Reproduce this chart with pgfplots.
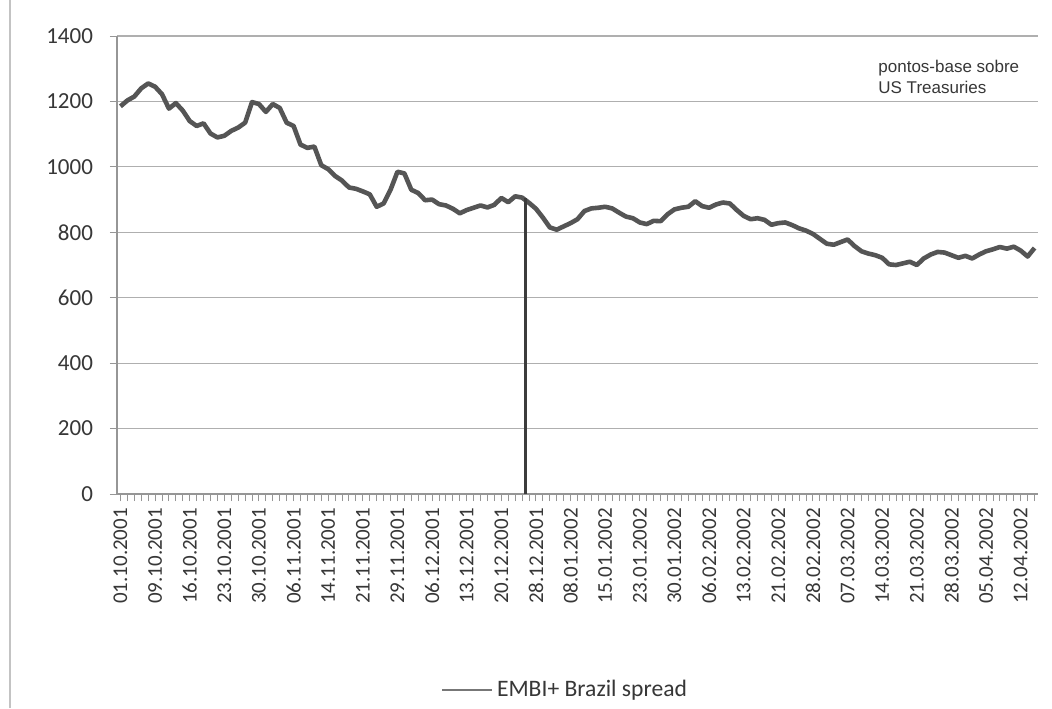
\documentclass[border=0pt]{standalone}
\usepackage{fontspec}
\setmainfont{Carlito}
\newfontfamily\notefont{Liberation Sans}
\usepackage{pgfplots}
\pgfplotsset{compat=1.18}

\definecolor{spread}{RGB}{85,85,85}
\definecolor{marker}{RGB}{60,60,60}
\definecolor{gridgray}{RGB}{175,175,175}
\definecolor{axisgray}{RGB}{150,150,150}
\definecolor{labelgray}{RGB}{55,55,55}
\definecolor{framegray}{RGB}{195,195,195}

\begin{document}
\begin{tikzpicture}
\useasboundingbox (0,0) rectangle (526pt,354pt);
\fill[white] (0,0) rectangle (526pt,354pt);
\draw[framegray, line width=0.6pt] (5pt,0) -- (5pt,354pt);
\begin{axis}[
  at={(58.5pt,107pt)}, anchor=south west,
  scale only axis, width=460.5pt, height=229pt,
  xmin=-0.5, xmax=132.5, ymin=0, ymax=1400,
  axis x line*=bottom, axis y line*=left,
  axis line style={axisgray, line width=0.6pt, -},
  xtick pos=left, ytick pos=left, tick align=outside,
  major tick length=3.5pt, minor tick length=3.5pt,
  tick style={axisgray, line width=0.5pt},
  ytick={0,200,...,1400},
  ymajorgrids, grid style={gridgray, line width=0.6pt},
  xtick={0,5,...,130},
  minor xtick={0,...,132},
  xticklabels={01.10.2001,09.10.2001,16.10.2001,23.10.2001,30.10.2001,06.11.2001,14.11.2001,21.11.2001,29.11.2001,06.12.2001,13.12.2001,20.12.2001,28.12.2001,08.01.2002,15.01.2002,23.01.2002,30.01.2002,06.02.2002,13.02.2002,21.02.2002,28.02.2002,07.03.2002,14.03.2002,21.03.2002,28.03.2002,05.04.2002,12.04.2002},
  xticklabel style={rotate=90, anchor=east, text=labelgray, font=\fontsize{10.5}{12}\selectfont},
  yticklabel style={text=labelgray, xshift=-5pt, font=\fontsize{11.5}{13}\selectfont},
  /pgf/number format/assume math mode=true,
  /pgf/number format/set thousands separator={},
  legend style={at={(0.4875,-0.428)}, anchor=center, draw=none, fill=none,
    font=\fontsize{11.8}{13}\selectfont, text=labelgray},
  legend image code/.code={\draw[spread!80, line width=1pt] (0pt,0pt) -- (25pt,0pt);},
]
% EMBI+ Brazil spread, one value per trading day (01.10.2001 - 16.04.2002)
\addplot[spread, line width=2.3pt, line join=round] coordinates {
(0,1185) (1,1203) (2,1215) (3,1240) (4,1255) (5,1245) (6,1222) (7,1178) (8,1195) (9,1172)
(10,1140) (11,1125) (12,1133) (13,1102) (14,1090) (15,1095) (16,1110) (17,1120) (18,1135) (19,1198)
(20,1192) (21,1168) (22,1192) (23,1180) (24,1135) (25,1125) (26,1068) (27,1058) (28,1062) (29,1005)
(30,993) (31,972) (32,958) (33,937) (34,933) (35,925) (36,916) (37,878) (38,888) (39,930)
(40,985) (41,980) (42,930) (43,920) (44,898) (45,900) (46,886) (47,882) (48,872) (49,858)
(50,868) (51,875) (52,882) (53,876) (54,884) (55,905) (56,892) (57,910) (58,906) (59,890)
(60,872) (61,845) (62,815) (63,808) (64,818) (65,828) (66,840) (67,865) (68,873) (69,875)
(70,878) (71,873) (72,860) (73,848) (74,843) (75,830) (76,825) (77,835) (78,834) (79,855)
(80,870) (81,875) (82,878) (83,895) (84,880) (85,875) (86,885) (87,891) (88,888) (89,868)
(90,850) (91,840) (92,843) (93,838) (94,823) (95,828) (96,830) (97,822) (98,812) (99,805)
(100,795) (101,780) (102,765) (103,762) (104,770) (105,778) (106,758) (107,742) (108,735) (109,730)
(110,722) (111,702) (112,700) (113,705) (114,710) (115,700) (116,720) (117,732) (118,740) (119,738)
(120,730) (121,722) (122,728) (123,720) (124,732) (125,742) (126,748) (127,755) (128,750) (129,756)
(130,744) (131,726) (132,752)
};
\addlegendentry{EMBI+ Brazil spread}
% year-end marker
\addplot[marker, line width=1.2pt, forget plot] coordinates {(58.5,0) (58.5,906)};
\end{axis}
\node[anchor=base west, text=labelgray, inner sep=0pt, font=\notefont\fontsize{8.5}{10}\selectfont] at (439pt,317.5pt) {pontos-base sobre};
\node[anchor=base west, text=labelgray, inner sep=0pt, font=\notefont\fontsize{8.5}{10}\selectfont] at (439pt,307pt) {US Treasuries};
\end{tikzpicture}
\end{document}
